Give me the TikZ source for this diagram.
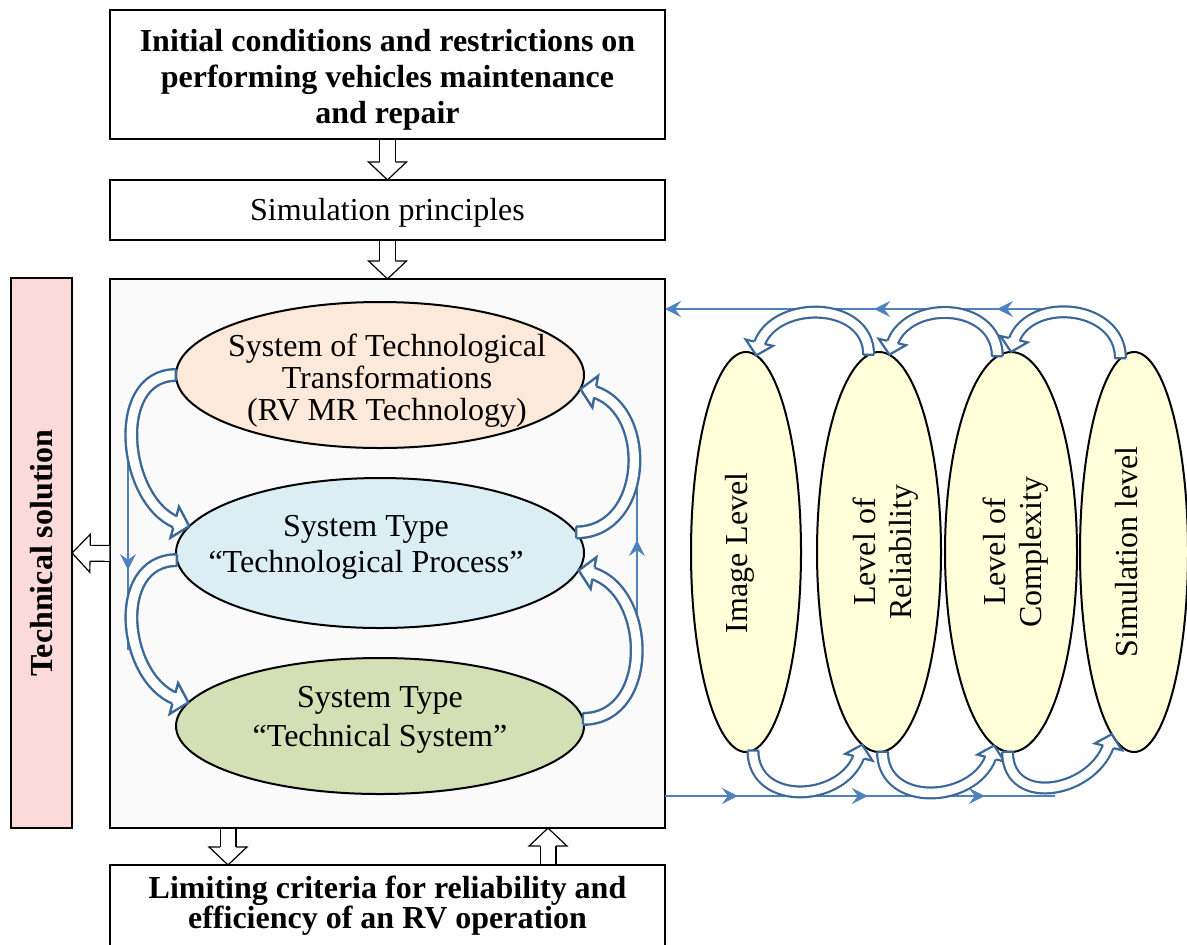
\documentclass[tikz,border=0pt]{standalone}
\usepackage{fontspec}
\setmainfont{Liberation Serif}
\usetikzlibrary{shapes.geometric,decorations.markings,arrows.meta}
\definecolor{hblue}{HTML}{3C6898}
\definecolor{tblue}{HTML}{4F81BD}
\definecolor{peachfill}{HTML}{FDE9D9}
\definecolor{bluefill}{HTML}{DBEEF3}
\definecolor{olivefill}{HTML}{D3DFB4}
\definecolor{yellowfill}{HTML}{FFFFDA}
\definecolor{pinkfill}{HTML}{FDDADA}
\definecolor{mainfill}{HTML}{FAFAFA}
% name, colour, shaft width, inner white width, outline width, half gap, head length, head half width, shorten
\newcommand\defharrow[9]{%
 \tikzset{#1/.style={draw=#2, line width=#3pt, shorten >=#9pt,
   postaction={draw=white, line width=#4pt},
   postaction={decorate, shorten >=0pt, decoration={markings,
     mark=at position 0.0005 with {\draw[#2, line width=#5pt] (0pt,-#6pt) -- (0pt,#6pt);},
     mark=at position 0.9985 with {\fill[white] (-#7pt,#6pt) -- (-#7pt,#8pt) -- (0pt,0pt) -- (-#7pt,-#8pt) -- (-#7pt,-#6pt) -- cycle;
       \draw[#2, line width=#5pt, line join=miter] (-#7pt,#6pt) -- (-#7pt,#8pt) -- (0pt,0pt) -- (-#7pt,-#8pt) -- (-#7pt,-#6pt);}}}}}%
}
\defharrow{harrowin}{hblue}{7}{4.6}{1.2}{2.9}{7.5}{8}{4}
\defharrow{harrowout}{hblue}{6.5}{4.3}{1.1}{2.7}{6.5}{7}{3.5}
\defharrow{blockarrow}{black}{8.5}{7.3}{0.6}{3.95}{9}{9.5}{5}
\begin{document}
\begin{tikzpicture}[x=0.5pt,y=-0.5pt,
  font=\fontsize{16}{18}\selectfont,
  >={Stealth[length=8pt,width=8pt,inset=3pt]},
  box/.style={rectangle,draw=black,line width=1pt,inner sep=0pt,outer sep=0pt},
  ell/.style={ellipse,draw=black,line width=1pt,inner sep=0pt,outer sep=0pt},
  thinl/.style={tblue,line width=1pt},
  boldtext/.style={font=\fontsize{16}{18}\selectfont\bfseries}]
\useasboundingbox (0,0) rectangle (1187,944);
\fill[white] (0,0) rectangle (1187,944);

% boxes
\node[box,minimum width=277.5pt,minimum height=64.5pt] (top) at (387.5,74.5) {};
\node[boldtext,align=center] (topt) at (387.5,80)
  {Initial conditions and restrictions on\\performing vehicles maintenance\\and repair};
\node[box,minimum width=277.5pt,minimum height=30pt] (sim) at (387.5,210) {};
\node (simt) at (387.5,213) {Simulation principles};
\node[box,fill=mainfill,minimum width=277.5pt,minimum height=274.5pt] (main) at (387.5,553.5) {};
\node[box,fill=pinkfill,minimum width=30.5pt,minimum height=275pt] (tech) at (41.5,553) {};
\node[boldtext,rotate=90] (techt) at (42,553) {Technical solution};
\node[box,minimum width=277.5pt,minimum height=70pt] (crit) at (387.5,935) {};
\node[font=\fontsize{16}{15}\selectfont\bfseries,align=center] (critt) at (387.5,906)
  {Limiting criteria for reliability and\\efficiency of an RV operation};

% ellipses in the main box
\node[ell,fill=peachfill,minimum width=204pt,minimum height=73pt] (e1) at (380,375) {};
\node[ell,fill=bluefill,minimum width=204pt,minimum height=75pt] (e2) at (380,553) {};
\node[ell,fill=olivefill,minimum width=204pt,minimum height=68pt] (e3) at (380,726) {};
\node[font=\fontsize{16}{16}\selectfont,align=center] (e1t) at (387,381)
  {System of Technological\\Transformations\\(RV MR Technology)};
\node[align=center] (e2t) at (366,547) {System Type\\“Technological Process”};
\node[font=\fontsize{16}{19.5}\selectfont,align=center] (e3t) at (380,720) {System Type\\“Technical System”};

% level ellipses
\node[ell,fill=yellowfill,minimum width=55pt,minimum height=200pt] (r1) at (746,552) {};
\node[ell,fill=yellowfill,minimum width=62pt,minimum height=200pt] (r2) at (879,552) {};
\node[ell,fill=yellowfill,minimum width=66pt,minimum height=200pt] (r3) at (1011,552) {};
\node[ell,fill=yellowfill,minimum width=54pt,minimum height=200pt] (r4) at (1134,552) {};
\node[rotate=90] (r1t) at (740,553) {Image Level};
\node[rotate=90,align=center] (r2t) at (886,552) {Level of\\Reliability};
\node[rotate=90,align=center] (r3t) at (1016,552) {Level of\\Complexity};
\node[rotate=90] (r4t) at (1127,552) {Simulation level};

% thin lines
\coordinate (tl) at (1068,309);
\coordinate (bl) at (1055,796);
\coordinate (lt) at (128,437);
\coordinate (lb) at (128,650);
\coordinate (rb) at (637,657);
\coordinate (rt) at (637,465);
\draw[thinl,->] (tl) -- (main.east |- tl);
\path[decorate,decoration={markings,mark=at position 0.176 with {\arrow[tblue]{>}},mark=at position 0.481 with {\arrow[tblue]{>}}}] (tl) -- (main.east |- tl);
\draw[thinl] (main.east |- bl) -- (bl);
\path[decorate,decoration={markings,mark=at position 0.187 with {\arrow[tblue]{>}},mark=at position 0.52 with {\arrow[tblue]{>}},mark=at position 0.82 with {\arrow[tblue]{>}}}] (main.east |- bl) -- (bl);
\draw[thinl] (lt) -- (lb);
\path[decorate,decoration={markings,mark=at position 0.624 with {\arrow[tblue]{>}}}] (lt) -- (lb);
\draw[thinl] (rb) -- (rt);
\path[decorate,decoration={markings,mark=at position 0.609 with {\arrow[tblue]{>}}}] (rb) -- (rt);

% hollow arrows inside the main box
\draw[harrowin] (e1.west) to[out=180,in=165,out distance=34pt,in distance=34pt] (e2.172);
\draw[harrowin] (e2.182) to[out=180,in=165,out distance=34pt,in distance=34pt] (e3.173);
\draw[harrowin] (e2.6) to[out=0,in=-10,out distance=37pt,in distance=37pt] (e1.-4);
\draw[harrowin] (e3.2) to[out=0,in=-10,out distance=37pt,in distance=37pt] (e2.-5);

% hollow arrows between level ellipses
\draw[harrowout] (r4.94) to[out=90,in=77,out distance=28pt,in distance=29pt] (r3.90);
\draw[harrowout] (r3.94) to[out=90,in=77,out distance=28pt,in distance=29pt] (r2.87);
\draw[harrowout] (r2.93) to[out=90,in=77,out distance=28pt,in distance=29pt] (r1.87);
\draw[harrowout] (r1.-88) to[out=-90,in=-104,out distance=29pt,in distance=30pt] (r2.-95);
\draw[harrowout] (r2.-89) to[out=-90,in=-104,out distance=29pt,in distance=30pt] (r3.-95);
\draw[harrowout] (r3.-91) to[out=-90,in=-104,out distance=29pt,in distance=30pt] (r4.-97);

% block arrows
\coordinate (xa) at (228,0);
\coordinate (xb) at (548,0);
\draw[blockarrow] (top.south) -- (sim.north);
\draw[blockarrow] (sim.south) -- (main.north);
\draw[blockarrow] (main.west) -- (tech.east);
\draw[blockarrow] (main.south -| xa) -- (crit.north -| xa);
\draw[blockarrow] (crit.north -| xb) -- (main.south -| xb);
\end{tikzpicture}
\end{document}
